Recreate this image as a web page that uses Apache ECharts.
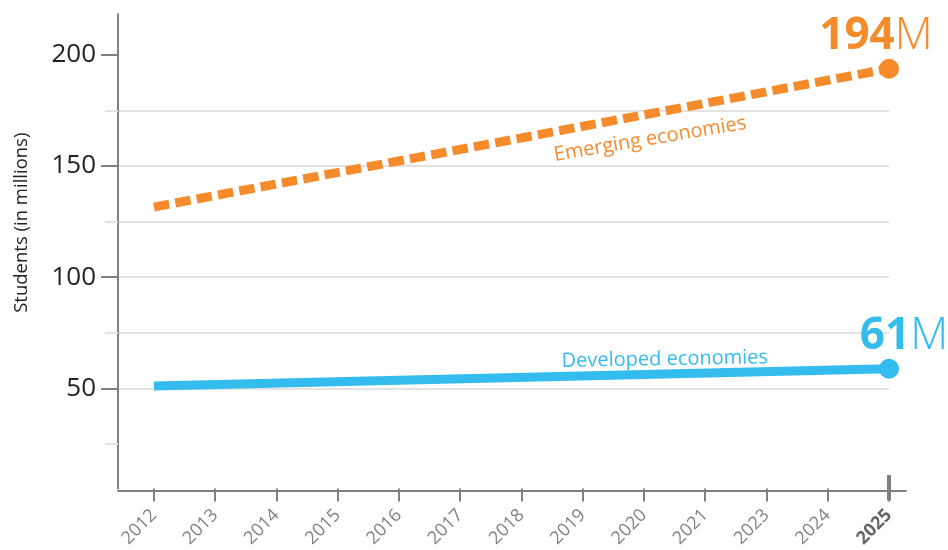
<!DOCTYPE html>
<html><head><meta charset="utf-8">
<script src="https://cdn.jsdelivr.net/npm/echarts@6/dist/echarts.min.js"></script>
<style>html,body{margin:0;padding:0;background:#fff}#c{width:948px;height:550px}</style>
</head><body><div id="c"></div>
<script>
// ---- data ----
const categories = ['2012','2013','2014','2015','2016','2017','2018','2019','2020','2021','2023','2024','2025'];
const emergingYears = ['2012','2025'];
const emergingValues = [131.5, 193.7];
const developedYears = ['2012','2025'];
const developedValues = [51.0, 58.8];
const yLabelTicks = [50, 100, 150, 200];
const yGridTicks = [25, 50, 75, 100, 125, 150, 175, 200];
const endLabelText = ['194', '61'];
const seriesNames = ['Emerging economies', 'Developed economies'];
const yAxisName = 'Students (in millions)';

// ---- styles ----
const FONT = '"Open Sans", "Noto Sans", sans-serif';
const ORANGE = '#F68B2C', BLUE = '#33BCED', AXIS = '#808080', GRID = '#e3e3e3';
const Y_MIN = 5, Y_MAX = 218.3, X_MIN = -0.587;
const last = categories.length - 1;
const xIdx = categories.map((c, i) => i);
const idx = y => categories.indexOf(y);

function lineData(years, values, endText, color, offset) {
  return years.map((y, i) => {
    const item = { value: [idx(y), values[i]] };
    if (i === years.length - 1) {
      item.symbolSize = 20;
      item.label = {
        show: true, position: 'top', distance: 0, offset: offset,
        formatter: '{n|' + endText + '}{m|M}',
        rich: {
          n: { fontFamily: FONT, fontSize: 44, fontWeight: 'bold', color: color },
          m: { fontFamily: FONT, fontSize: 44, fontWeight: 300, color: color }
        }
      };
    }
    return item;
  });
}

const chart = echarts.init(document.getElementById('c'), null, { renderer: 'canvas' });
chart.setOption({
  animation: false,
  backgroundColor: '#fff',
  grid: [
    { left: 118, right: 59, top: 14, bottom: 59, containLabel: false },
    { left: 118, right: 42, top: 14, bottom: 59, containLabel: false }
  ],
  xAxis: [
    {
      type: 'value', gridIndex: 0, position: 'bottom', min: X_MIN, max: last,
      axisLine: { show: false, onZero: false },
      axisTick: { show: true, customValues: xIdx, length: 13, inside: false, lineStyle: { color: AXIS, width: 2 } },
      axisLabel: {
        show: true, customValues: xIdx, rotate: 45, margin: 24,
        color: '#808080', fontSize: 18, fontFamily: FONT,
        formatter: v => (v === last ? '{b|' + categories[v] + '}' : categories[v]),
        rich: { b: { fontWeight: 'bold', color: '#666', fontSize: 18, fontFamily: FONT } }
      },
      splitLine: { show: false }
    },
    {
      type: 'value', gridIndex: 1, position: 'bottom', min: X_MIN, max: X_MIN + (last - X_MIN) * (906 - 118) / (889 - 118),
      axisLine: { show: true, onZero: false, lineStyle: { color: AXIS, width: 2 } },
      axisTick: { show: true, customValues: [last], inside: true, length: 16, lineStyle: { color: AXIS, width: 4 } },
      axisLabel: { show: false },
      splitLine: { show: false }
    },
    {
      type: 'value', gridIndex: 0, position: 'bottom', min: X_MIN, max: last,
      axisLine: { show: false, onZero: false },
      axisTick: { show: true, customValues: [last], inside: false, length: 12, lineStyle: { color: AXIS, width: 4 } },
      axisLabel: { show: false },
      splitLine: { show: false }
    }
  ],
  yAxis: [
    {
      type: 'value', gridIndex: 0, position: 'left', min: Y_MIN, max: Y_MAX, minInterval: 25, maxInterval: 25,
      axisLine: { show: false, onZero: false },
      axisTick: { show: true, customValues: yGridTicks, length: 13, lineStyle: { color: GRID, width: 2 } },
      axisLabel: { show: false },
      splitLine: { show: true, showMinLine: false, showMaxLine: false, lineStyle: { color: GRID, width: 2 } }
    },
    {
      type: 'value', gridIndex: 0, position: 'left', min: Y_MIN, max: Y_MAX,
      axisLine: { show: true, onZero: false, lineStyle: { color: AXIS, width: 2 } },
      axisTick: { show: true, customValues: yLabelTicks, length: 17, lineStyle: { color: AXIS, width: 2 } },
      axisLabel: { show: true, customValues: yLabelTicks, margin: 22, color: '#222', fontSize: 26, fontFamily: FONT },
      splitLine: { show: false },
      name: yAxisName, nameLocation: 'middle', nameGap: 87, nameRotate: 90,
      nameTextStyle: { color: '#222', fontSize: 18.5, fontFamily: FONT, padding: [0, 0, 0, 57] }
    },
    { type: 'value', gridIndex: 1, position: 'left', min: Y_MIN, max: Y_MAX, show: false }
  ],
  series: [
    {
      name: seriesNames[0], type: 'line', xAxisIndex: 0, yAxisIndex: 1,
      data: lineData(emergingYears, emergingValues, endLabelText[0], ORANGE, [-13, 0]),
      symbol: 'circle', symbolSize: 0, clip: false, silent: true,
      lineStyle: { color: ORANGE, width: 9, type: [15.5, 6.2], cap: 'butt' },
      itemStyle: { color: ORANGE },
      markPoint: {
        symbol: 'circle', symbolSize: 0, silent: true,
        label: { show: true, position: 'inside', formatter: '{b}', rotate: 9.5, color: ORANGE, fontSize: 20, fontFamily: FONT },
        data: [{ name: seriesNames[0], coord: [8.1, 162] }]
      }
    },
    {
      name: seriesNames[1], type: 'line', xAxisIndex: 0, yAxisIndex: 1,
      data: lineData(developedYears, developedValues, endLabelText[1], BLUE, [15, 0]),
      symbol: 'circle', symbolSize: 0, clip: false, silent: true,
      lineStyle: { color: BLUE, width: 9, cap: 'butt' },
      itemStyle: { color: BLUE },
      markPoint: {
        symbol: 'circle', symbolSize: 0, silent: true,
        label: { show: true, position: 'inside', formatter: '{b}', rotate: 1, color: BLUE, fontSize: 20, fontFamily: FONT },
        data: [{ name: seriesNames[1], coord: [8.34, 63] }]
      }
    }
  ]
});
</script>
</body></html>
